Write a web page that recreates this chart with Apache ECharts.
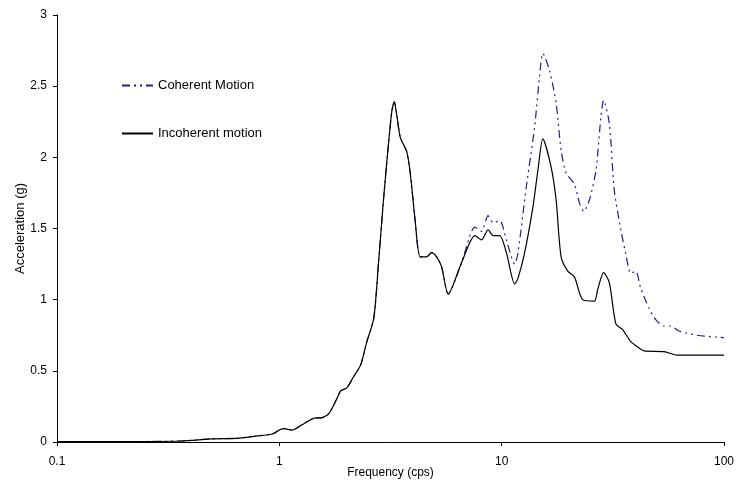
<!DOCTYPE html>
<html>
<head>
<meta charset="utf-8">
<script src="https://cdn.jsdelivr.net/npm/echarts@6/dist/echarts.min.js"></script>
<style>html,body{margin:0;padding:0;background:#fff;}#chart{width:737px;height:493px;}</style>
</head>
<body>
<div id="chart"></div>
<script>
// Shared low-frequency part (both curves coincide)
var sharedFreq = [0.1, 0.19, 0.36, 0.5, 0.64, 0.79, 0.93, 1.0, 1.05, 1.14, 1.26, 1.46, 1.54, 1.67, 1.81, 1.89, 2.01, 2.16, 2.32, 2.47, 2.66, 2.8, 2.94, 3.1, 3.21, 3.29, 3.38, 3.5, 3.74, 3.88, 4.08, 4.3, 4.6, 4.84, 5.1, 5.37, 5.75, 6.6];
var sharedAcc  = [0.003, 0.003, 0.007, 0.022, 0.026, 0.042, 0.056, 0.084, 0.094, 0.084, 0.12, 0.17, 0.17, 0.2, 0.3, 0.36, 0.38, 0.46, 0.54, 0.7, 0.87, 1.28, 1.7, 2.1, 2.33, 2.39, 2.29, 2.14, 2.04, 1.89, 1.56, 1.3, 1.3, 1.33, 1.3, 1.23, 1.04, 1.26];

// Coherent motion (dash-dot) beyond divergence
var coherentFreq = [7.58, 8.11, 8.69, 9.15, 9.8, 10.5, 11.45, 11.84, 12.9, 14.07, 14.81, 15.32, 16.42, 17.58, 18.51, 19.49, 21.25, 22.38, 23.39, 24.81, 26.56, 27.96, 28.74, 30.49, 32.1, 34.37, 36.18, 38.1, 40.11, 42.23, 46.04, 49.3, 53.77, 57.54, 62.75, 75.79, 100];
var coherentAcc  = [1.51, 1.48, 1.59, 1.54, 1.555, 1.42, 1.25, 1.33, 1.79, 2.215, 2.57, 2.73, 2.61, 2.38, 2.05, 1.89, 1.81, 1.68, 1.62, 1.7, 1.91, 2.285, 2.4, 2.24, 1.77, 1.49, 1.32, 1.185, 1.2, 1.08, 0.94, 0.86, 0.815, 0.815, 0.78, 0.75, 0.733];

// Incoherent motion (solid) beyond divergence
var incoherentFreq = [7.58, 8.11, 8.69, 9.15, 9.8, 10.5, 11.45, 11.84, 12.69, 13.82, 14.56, 15.32, 16.7, 17.58, 18.51, 19.83, 21.25, 23.15, 26.12, 27.02, 28.74, 30.49, 32.64, 34.98, 38.1, 41.55, 43.74, 53.77, 61.66, 100];
var incoherentAcc  = [1.45, 1.42, 1.49, 1.45, 1.45, 1.33, 1.11, 1.15, 1.33, 1.65, 1.91, 2.13, 1.93, 1.7, 1.3, 1.2, 1.16, 1.0, 0.99, 1.07, 1.19, 1.12, 0.83, 0.79, 0.705, 0.66, 0.64, 0.635, 0.61, 0.61];

var xTickLabels = ['0.1', '1', '10', '100'];
var yTickLabels = ['0', '0.5', '1', '1.5', '2', '2.5', '3'];

function pairs(fa, va) { return fa.map(function (f, i) { return [f, va[i]]; }); }
var coherentData = pairs(sharedFreq.concat(coherentFreq), sharedAcc.concat(coherentAcc));
var incoherentData = pairs(sharedFreq.concat(incoherentFreq), sharedAcc.concat(incoherentAcc));

var font = 'Liberation Sans, Arial, sans-serif';
var chart = echarts.init(document.getElementById('chart'), null, {renderer: 'canvas'});
chart.setOption({
  animation: false,
  backgroundColor: '#ffffff',
  grid: {left: 57, top: 15, right: 10, bottom: 51, containLabel: false},
  legend: {
    orient: 'vertical', left: 116, top: 74, itemGap: 35, itemWidth: 31, itemHeight: 14,
    itemStyle: {opacity: 0},
    textStyle: {fontFamily: font, fontSize: 13, color: '#000'},
    data: ['Coherent Motion', 'Incoherent motion']
  },
  xAxis: {
    type: 'log', logBase: 10, min: 0.1, max: 100,
    name: 'Frequency (cps)', nameLocation: 'middle', nameGap: 25, nameMoveOverlap: false,
    nameTextStyle: {fontFamily: font, fontSize: 12, color: '#000'},
    axisLine: {lineStyle: {color: '#000', width: 1}},
    axisTick: {show: true, inside: false, length: 4, lineStyle: {color: '#000'}},
    minorTick: {show: false},
    splitLine: {show: false},
    axisLabel: {fontFamily: font, fontSize: 12, color: '#000', margin: 14,
      formatter: function (v) {
        var s = String(+v.toPrecision(6));
        return xTickLabels.indexOf(s) >= 0 ? s : '';
      }}
  },
  yAxis: {
    type: 'value', min: 0, max: 3, interval: 0.5,
    name: 'Acceleration (g)', nameLocation: 'middle', nameGap: 30, nameRotate: 90, nameMoveOverlap: false,
    nameTextStyle: {fontFamily: font, fontSize: 13, color: '#000'},
    axisLine: {show: true, lineStyle: {color: '#000', width: 1}},
    axisTick: {show: true, inside: false, length: 4, lineStyle: {color: '#000'}},
    splitLine: {show: false},
    axisLabel: {fontFamily: font, fontSize: 12, color: '#000', margin: 10,
      formatter: function (v) {
        var s = String(+v.toFixed(2));
        return yTickLabels.indexOf(s) >= 0 ? s : '';
      }}
  },
  series: [
    {
      name: 'Coherent Motion', type: 'line', data: coherentData,
      showSymbol: false, symbol: 'none', smooth: 0.25, z: 2,
      lineStyle: {color: '#1f1f8f', width: 1.2, type: [8, 4, 2, 4, 2, 4]},
      itemStyle: {color: '#1f1f8f'}
    },
    {
      name: 'Incoherent motion', type: 'line', data: incoherentData,
      showSymbol: false, symbol: 'none', smooth: 0.25, z: 3,
      lineStyle: {color: '#000000', width: 1.2, type: 'solid'},
      itemStyle: {color: '#000000'}
    }
  ]
});
</script>
</body>
</html>
